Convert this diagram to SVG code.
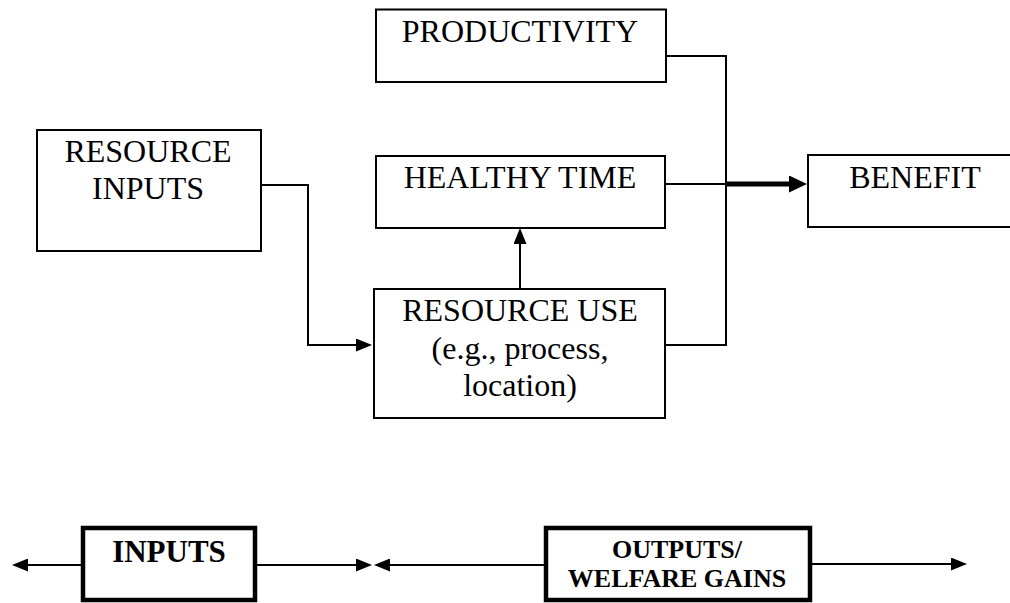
<svg xmlns="http://www.w3.org/2000/svg" width="1010" height="603" viewBox="0 0 1010 603">
<style>
.box{fill:#fff;stroke:#000;stroke-width:2}
.bold{fill:#fff;stroke:#000;stroke-width:4.5}
.t{font-family:"Liberation Serif","Times New Roman",serif;font-size:32px;fill:#000;text-anchor:middle}
.tb{font-family:"Liberation Serif","Times New Roman",serif;font-size:31px;font-weight:bold;fill:#000;text-anchor:middle}
.ts{font-family:"Liberation Serif","Times New Roman",serif;font-size:26px;font-weight:bold;fill:#000;text-anchor:middle}
.c{fill:none;stroke:#000;stroke-width:2}
.thick{fill:none;stroke:#000;stroke-width:5}
</style>
<defs>
<marker id="ah" viewBox="0 0 16 13" refX="0" refY="6.5" markerWidth="16" markerHeight="13" markerUnits="userSpaceOnUse" orient="auto">
<path d="M0,0 L16,6.5 L0,13 z" fill="#000"/>
</marker>
<marker id="ahb" viewBox="0 0 18 17" refX="0" refY="8.5" markerWidth="18" markerHeight="17" markerUnits="userSpaceOnUse" orient="auto">
<path d="M0,0 L18,8.5 L0,17 z" fill="#000"/>
</marker>
</defs>
<rect width="1010" height="603" fill="#fff"/>
<g id="connectors">
<path class="c" d="M261,185 H308 V345 H356" marker-end="url(#ah)"/>
<path class="c" d="M520,289 V244" marker-end="url(#ah)"/>
<path class="c" d="M666,56 H726 V345 H665"/>
<path class="c" d="M665,184 H726"/>
<path class="thick" d="M726,184 H789" marker-end="url(#ahb)"/>
<path class="c" d="M83,565 H28" marker-end="url(#ah)"/>
<path class="c" d="M255,565 H356" marker-end="url(#ah)"/>
<path class="c" d="M546,565 H390" marker-end="url(#ah)"/>
<path class="c" d="M810,564 H951" marker-end="url(#ah)"/>
</g>
<g id="productivity">
<rect class="box" x="376" y="9.5" width="290" height="72.5"/>
<text class="t" x="520" y="42">PRODUCTIVITY</text>
</g>
<g id="resource-inputs">
<rect class="box" x="37" y="130" width="224" height="121"/>
<text class="t" x="148" y="162">RESOURCE</text>
<text class="t" x="148" y="199">INPUTS</text>
</g>
<g id="healthy-time">
<rect class="box" x="376" y="156" width="289" height="72"/>
<text class="t" x="520" y="188">HEALTHY TIME</text>
</g>
<g id="resource-use">
<rect class="box" x="374" y="289" width="291" height="129"/>
<text class="t" x="520" y="321">RESOURCE USE</text>
<text class="t" x="520" y="359">(e.g., process,</text>
<text class="t" x="520" y="396">location)</text>
</g>
<g id="benefit">
<rect class="box" x="808" y="155" width="215" height="72"/>
<text class="t" x="915" y="188">BENEFIT</text>
</g>
<g id="inputs">
<rect class="bold" x="83" y="528" width="172" height="72"/>
<text class="tb" x="169" y="562">INPUTS</text>
</g>
<g id="outputs">
<rect class="bold" x="546" y="528" width="264" height="72"/>
<text class="ts" x="677" y="558">OUTPUTS/</text>
<text class="ts" x="677" y="587">WELFARE GAINS</text>
</g>
</svg>
